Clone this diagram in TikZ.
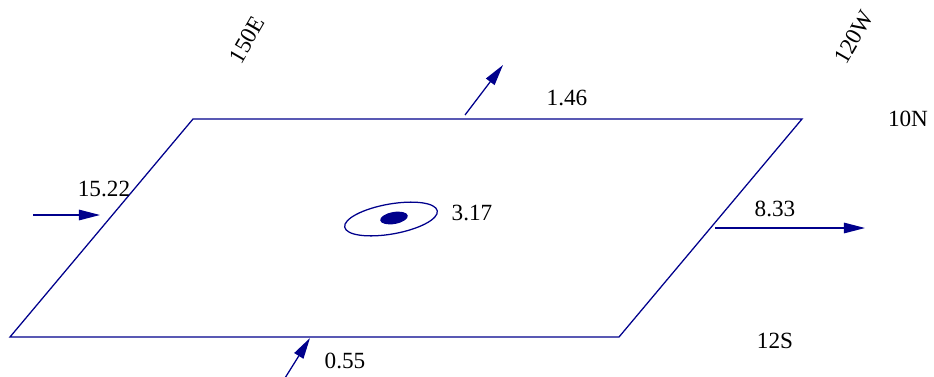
\documentclass[tikz,border=0pt]{standalone}
\usepackage{fontspec}
\setmainfont{Liberation Serif}
\usetikzlibrary{arrows.meta, positioning}
\definecolor{boxnavy}{RGB}{0,0,140}

\begin{document}
\begin{tikzpicture}[
  x=0.025cm, y=-0.025cm,
  edge/.style={draw=boxnavy, line width=0.9pt},
  flux/.style={-{Triangle[length=15pt, width=7.5pt]}, draw=boxnavy, fill=boxnavy, line width=0.9pt},
  num/.style={font=\fontsize{16.5}{19}\selectfont, inner sep=0pt},
  lon/.style={num, rotate=60},
]
  \useasboundingbox (0,0) rectangle (934,376);

  % box corners
  \coordinate (nw) at (193,119);
  \coordinate (ne) at (802,119);
  \coordinate (se) at (619,337);
  \coordinate (sw) at (10,337);
  \draw[edge] (nw) -- (ne) -- (se) -- (sw) -- cycle;

  % corner labels
  \node[lon] (lonw) at (247,40) {150E};
  \node[lon] (lone) at (854,37) {120W};
  \node[num] (latn) at (908,119) {10N};
  \node[num] (lats) at (775,341) {12S};

  % fluxes across the sides
  \coordinate (wtail) at (33,215);  \coordinate (whead) at (100,215);
  \coordinate (etail) at (715,228); \coordinate (ehead) at (865,228);
  \coordinate (ntail) at (465,115); \coordinate (nhead) at (503,65);
  \coordinate (stail) at (285,378); \coordinate (shead) at (310,338);
  \draw[flux] (wtail) -- (whead);
  \draw[flux] (etail) -- (ehead);
  \draw[flux] (ntail) -- (nhead);
  \draw[flux] (stail) -- (shead);

  \node[num] (wval) at (104,189) {15.22};
  \node[num] (eval) at (775,209) {8.33};
  \node[num] (nval) at (567,98)  {1.46};
  \node[num] (sval) at (345,361) {0.55};

  % interior source
  \draw[edge] (391,219) ellipse[x radius=47, y radius=15, rotate=10];
  \fill[boxnavy] (394,218) ellipse[x radius=14, y radius=6, rotate=10];
  \node[num] (cval) at (472,213) {3.17};
\end{tikzpicture}
\end{document}
